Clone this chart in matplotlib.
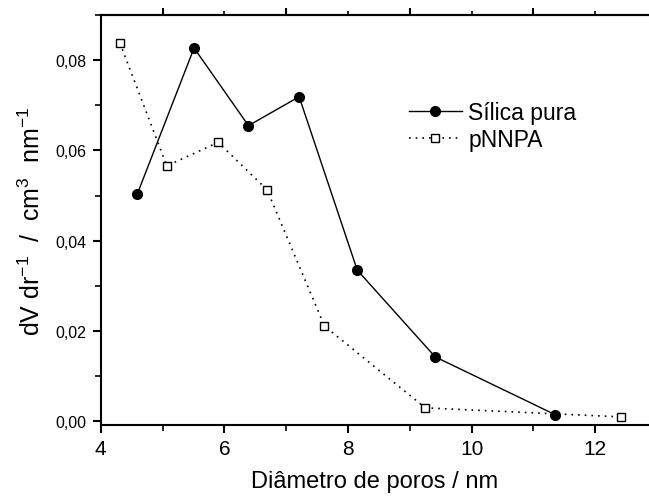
import numpy as np
import matplotlib
matplotlib.use("Agg")
import matplotlib.pyplot as plt
from matplotlib.ticker import MultipleLocator, FuncFormatter, FixedLocator

plt.rcParams['font.family'] = ['Liberation Sans', 'DejaVu Sans']
plt.rcParams['mathtext.fontset'] = 'custom'
plt.rcParams['mathtext.rm'] = 'Liberation Sans'
plt.rcParams['mathtext.it'] = 'Liberation Sans'

# dados
x_silica = [4.59, 5.51, 6.39, 7.21, 8.15, 9.41, 11.35]
y_silica = [0.0503, 0.0827, 0.0655, 0.0719, 0.0335, 0.0143, 0.0015]
x_pnnpa = [4.31, 5.07, 5.90, 6.69, 7.62, 9.25, 12.41]
y_pnnpa = [0.0838, 0.0566, 0.0618, 0.0513, 0.0211, 0.0030, 0.0010]

fig = plt.figure(figsize=(6.49, 5.02), dpi=100)
ax = fig.add_axes([0.1552, 0.1514, 0.8448, 0.8167])

ax.plot(x_silica, y_silica, '-', color='black', lw=1.0, marker='o',
        ms=7, mfc='black', mec='black', label='Sílica pura')
ax.plot(x_pnnpa, y_pnnpa, linestyle=(0, (1, 3)), color='black', lw=1.2,
        marker='s', ms=5.5, mfc='white', mec='black', mew=1.0, label='pNNPA')

ax.set_xlim(4, 12.87)
ax.set_ylim(-0.0008, 0.090)

ax.spines['right'].set_visible(False)
for s in ['left', 'bottom', 'top']:
    ax.spines[s].set_linewidth(1.5)

ax.xaxis.set_major_locator(MultipleLocator(2))
ax.xaxis.set_minor_locator(MultipleLocator(1))
ax.yaxis.set_major_locator(MultipleLocator(0.02))
ax.yaxis.set_minor_locator(MultipleLocator(0.01))
ax.yaxis.set_major_formatter(FuncFormatter(lambda v, p: ('%.2f' % v).replace('.', ',')))

ax.tick_params(axis='x', which='major', direction='out', length=6, width=1.5,
               labelsize=15, pad=4)
ax.tick_params(axis='x', which='minor', direction='out', length=4, width=1.2)
ax.tick_params(axis='y', which='major', direction='out', length=6, width=1.5,
               labelsize=11.5, pad=4.5)
ax.tick_params(axis='y', which='minor', direction='out', length=4, width=1.2)
ax.tick_params(right=False, which='both')

# eixo superior
top = ax.secondary_xaxis('top')
top.xaxis.set_major_locator(FixedLocator([5, 7, 9, 11]))
top.xaxis.set_minor_locator(FixedLocator([6, 8, 10, 12]))
top.tick_params(which='major', direction='out', length=5, width=1.5, labelsize=0,
                labeltop=False)
top.tick_params(which='minor', direction='out', length=3, width=1.2)
top.spines['top'].set_linewidth(1.5)

ax.set_xlabel('Diâmetro de poros / nm', fontsize=17, labelpad=9)
ax.set_ylabel(r'dV dr$^{-1}$  /  cm$^{3}$  nm$^{-1}$', fontsize=18, labelpad=7)

ax.legend(loc='upper left', bbox_to_anchor=(0.630, 0.797),
          bbox_transform=fig.transFigure, frameon=False, fontsize=16.5,
          numpoints=1, handlelength=2.3, handletextpad=0.3,
          labelspacing=0.2, borderpad=0, borderaxespad=0)

fig.savefig('out.png', dpi=100)
